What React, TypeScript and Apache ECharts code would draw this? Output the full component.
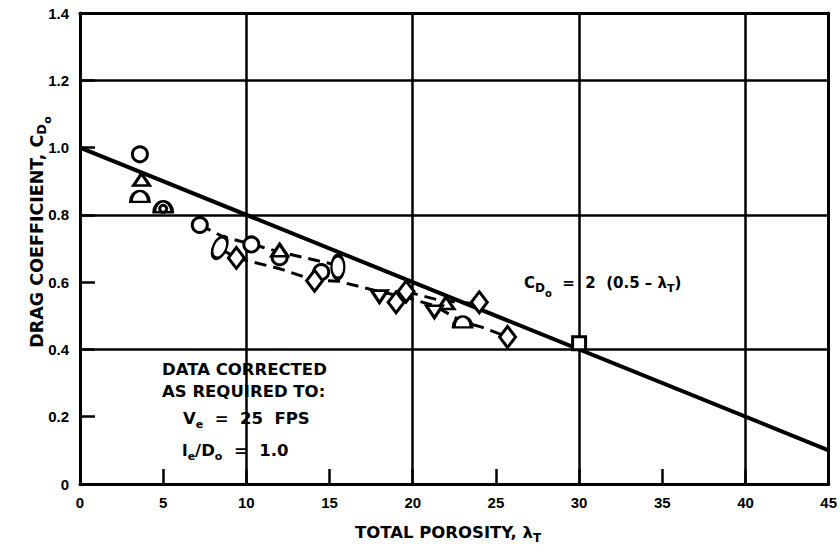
import { useEffect, useRef } from "react";
import * as echarts from "echarts";

// ---- data ----
const fitLine = [[0, 1.0], [45, 0.1]];
const circles = [[3.6, 0.98], [7.2, 0.77], [10.3, 0.712], [12.0, 0.674], [14.5, 0.63]];
const smallCircles = [[5.0, 0.818]];
const trianglesUp = [[3.7, 0.905], [12.0, 0.695], [22.0, 0.538]];
const trianglesDown = [[18.0, 0.557], [21.3, 0.512]];
const halfEllipses = [[3.6, 0.855], [5.0, 0.824], [23.0, 0.482]];
const diamonds = [[9.4, 0.672], [14.1, 0.604], [19.0, 0.54], [19.6, 0.572], [24.0, 0.54], [25.7, 0.437]];
const ellipses = [[15.5, 0.645]];
const tiltedEllipses = [[8.4, 0.703]];
const squares = [[30.0, 0.418]];
const dashUpper = [[7.2, 0.77], [8.6, 0.735], [10.3, 0.713], [12.0, 0.69], [15.3, 0.652]];
const dashLower = [[8.4, 0.7], [9.4, 0.672], [12.0, 0.64], [14.1, 0.605], [15.5, 0.603], [18.0, 0.572], [19.6, 0.555], [21.3, 0.53], [23.0, 0.482], [24.1, 0.467], [25.7, 0.437]];
const dashMiddle = [[19.6, 0.572], [21.7, 0.545], [24.0, 0.535]];

const FONT = "DejaVu Sans";
const TICKFONT = "Liberation Sans";

export default function App() {
  const ref = useRef<HTMLDivElement>(null);
  useEffect(() => {
    if (!ref.current) return;
    const chart = echarts.init(ref.current, null, { renderer: "svg" });
    const markerStyle = { color: "#fff", borderColor: "#000", borderWidth: 3, opacity: 1 };
    const scatter = (data: number[][], symbol: string, size: any, rotate = 0) => ({
      type: "scatter",
      data,
      symbol,
      symbolSize: size,
      symbolRotate: rotate,
      itemStyle: markerStyle,
      silent: true,
      z: 5,
    });
    const line = (data: number[][], width: number, type: any) => ({
      type: "line",
      data,
      symbol: "none",
      lineStyle: { color: "#000", width, type, opacity: 1 },
      silent: true,
      z: 3,
    });
    const sub = (size: number, pad: number) => ({
      fontFamily: FONT,
      fontWeight: "bold",
      fontSize: size,
      fill: "#000",
      color: "#000",
      padding: [pad, 0, 0, 0],
    });
    const textBase = { fontFamily: FONT, fontWeight: "bold", fontSize: 16.5, fill: "#000" };
    const gridColors = ["#000", "rgba(0,0,0,0)"];
    const tickStyle = { color: "#000", width: 2.5 };
    const frameAxis = (position: string, max: number) => ({
      type: "value", min: 0, max, position,
      axisLine: { show: true, onZero: false, lineStyle: { color: "#000", width: 3 } },
      axisTick: { show: false }, axisLabel: { show: false }, splitLine: { show: false },
    });
    chart.setOption({
      animation: false,
      backgroundColor: "#fff",
      grid: { left: 80, right: 5, top: 13, bottom: 71, show: false },
      xAxis: [
        {
          type: "value", min: 0, max: 45, interval: 5, position: "bottom",
          axisLine: { show: true, onZero: false, lineStyle: { color: "#000", width: 3 } },
          axisTick: { show: true, inside: true, length: 15, lineStyle: tickStyle },
          axisLabel: { color: "#000", fontFamily: TICKFONT, fontWeight: "bold", fontSize: 15, margin: 11 },
          splitLine: { show: true, lineStyle: { color: gridColors, width: 2.5 } },
        },
        frameAxis("top", 45),
      ],
      yAxis: [
        {
          type: "value", min: 0, max: 1.4, interval: 0.2, position: "left",
          axisLine: { show: true, onZero: false, lineStyle: { color: "#000", width: 3 } },
          axisTick: { show: true, inside: true, length: 15, lineStyle: tickStyle },
          axisLabel: {
            color: "#000", fontFamily: TICKFONT, fontWeight: "bold", fontSize: 15, margin: 11,
            formatter: (v: number) => (v === 0 ? "0" : v.toFixed(1)),
          },
          splitLine: { show: true, lineStyle: { color: gridColors, width: 2.5 } },
        },
        frameAxis("right", 1.4),
      ],
      series: [
        line(fitLine, 4, "solid"),
        line(dashUpper, 3, [12, 7]),
        line(dashLower, 3, [12, 7]),
        line(dashMiddle, 3, [12, 7]),
        scatter(circles, "circle", 15),
        scatter(trianglesUp, "triangle", [16, 12]),
        scatter(trianglesDown, "triangle", [16, 12], 180),
        scatter(halfEllipses, "path://M0,10 A10,10 0 0 1 20,10 Z", [18, 11]),
        scatter(smallCircles, "circle", 7),
        scatter(diamonds, "diamond", [16, 21]),
        scatter(ellipses, "path://M10,0 A10,20 0 1 1 10,40 A10,20 0 1 1 10,0 Z", [13, 23]),
        scatter(tiltedEllipses, "path://M10,0 A10,20 0 1 1 10,40 A10,20 0 1 1 10,0 Z", [13, 23], -25),
        scatter(squares, "rect", 13),
      ],
      graphic: [
        {
          type: "text", x: 37, y: 232, rotation: Math.PI / 2,
          style: {
            ...textBase, fontSize: 17.5, text: "DRAG COEFFICIENT, C{d|D}{o|o}", align: "center", verticalAlign: "middle",
            rich: { d: sub(13, 9), o: sub(11, 21) },
          },
        },
        {
          type: "text", x: 448, y: 532,
          style: {
            ...textBase, text: "TOTAL POROSITY, λ{t|T}", align: "center", verticalAlign: "middle",
            rich: { t: sub(12, 11) },
          },
        },
        {
          type: "text", x: 524, y: 283,
          style: {
            ...textBase, fontSize: 15, text: "C{d|D}{o|o}  =  2  (0.5 – λ{t|T})", align: "left", verticalAlign: "middle",
            rich: { d: sub(12, 9), o: sub(10, 20), t: sub(11, 10) },
          },
        },
        { type: "text", x: 162, y: 369, style: { ...textBase, text: "DATA CORRECTED", align: "left", verticalAlign: "middle" } },
        { type: "text", x: 162, y: 391, style: { ...textBase, text: "AS REQUIRED TO:", align: "left", verticalAlign: "middle" } },
        {
          type: "text", x: 183, y: 418,
          style: { ...textBase, text: "V{e|e}  =  25  FPS", align: "left", verticalAlign: "middle", rich: { e: sub(11, 12) } },
        },
        {
          type: "text", x: 182, y: 450,
          style: { ...textBase, text: "l{e|e}/D{o|o}  =  1.0", align: "left", verticalAlign: "middle", rich: { e: sub(11, 12), o: sub(11, 12) } },
        },
      ],
    });
    return () => chart.dispose();
  }, []);
  return <div ref={ref} style={{ position: "fixed", left: 0, top: 0, width: 840, height: 555 }} />;
}
